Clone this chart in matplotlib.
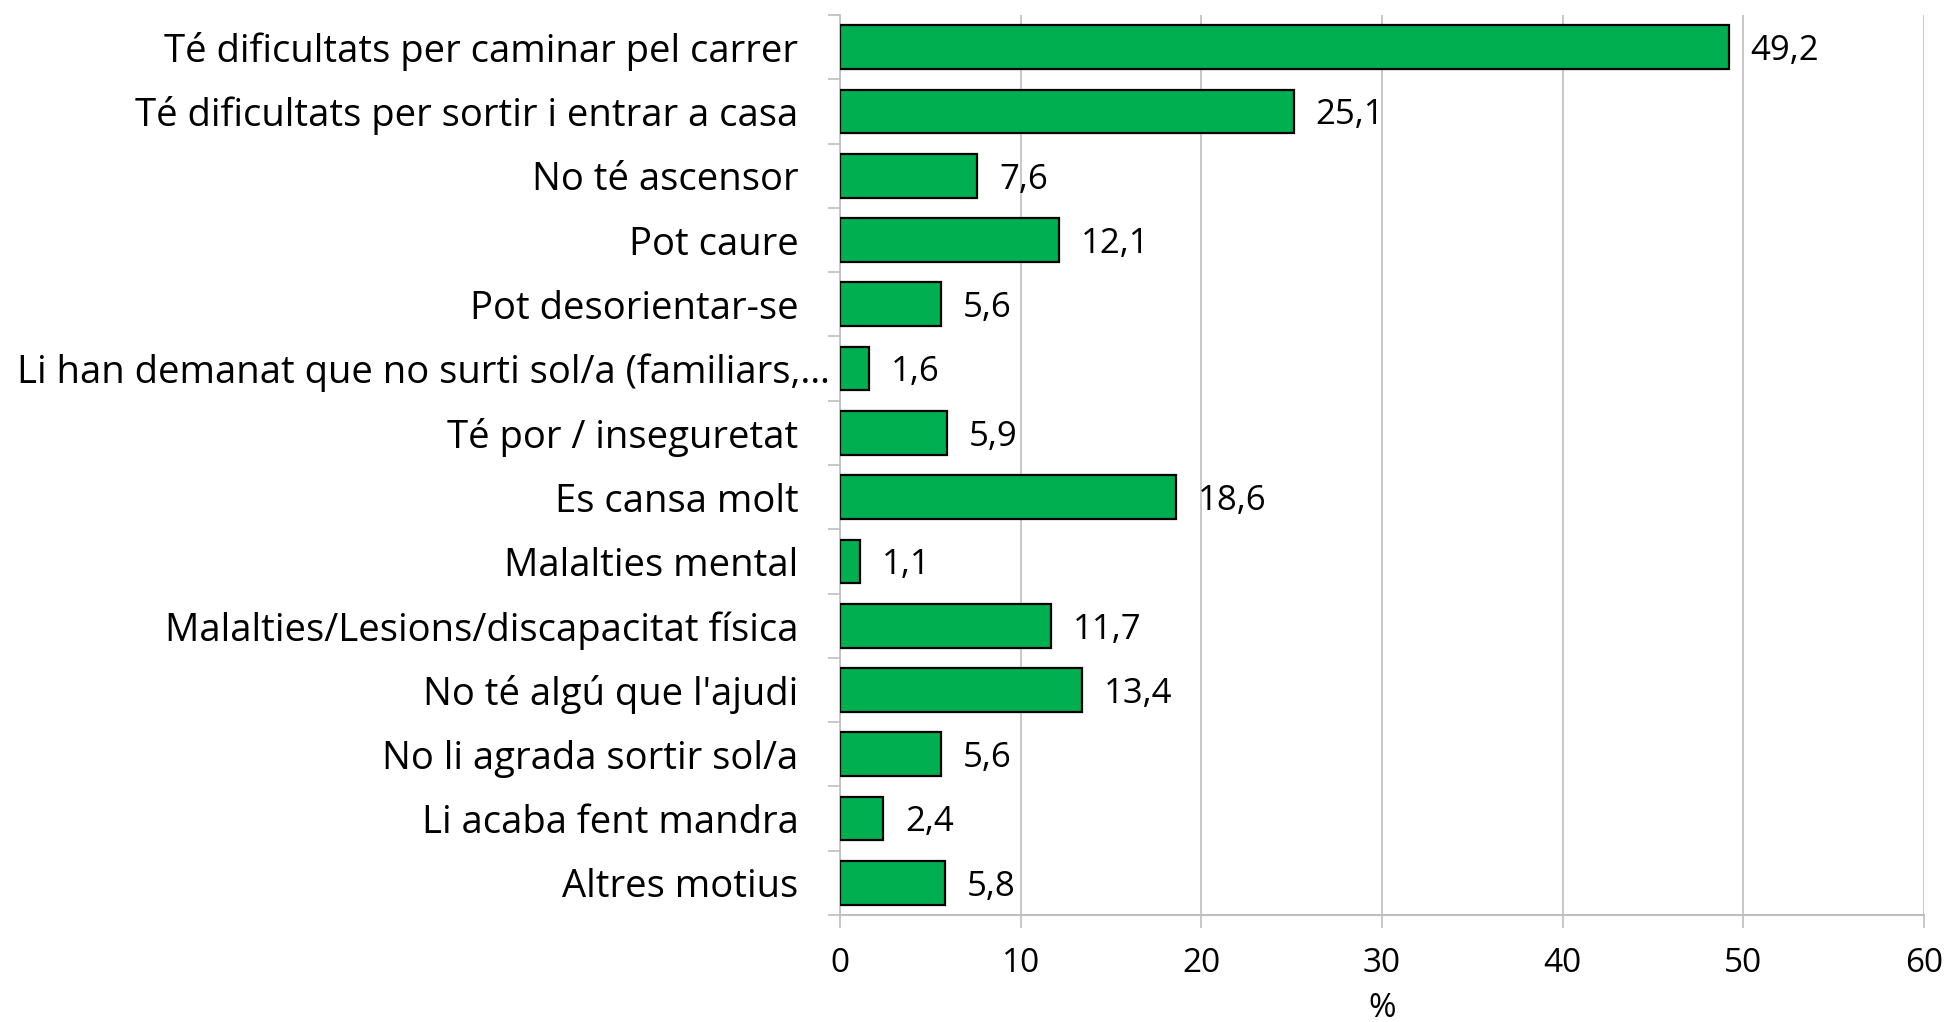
import matplotlib
matplotlib.use("Agg")
import matplotlib.pyplot as plt
import matplotlib.transforms as mtransforms
import numpy as np

plt.rcParams['font.family'] = ['Open Sans', 'DejaVu Sans']

categories = [
    "Té dificultats per caminar pel carrer",
    "Té dificultats per sortir i entrar a casa",
    "No té ascensor",
    "Pot caure",
    "Pot desorientar-se",
    "Li han demanat que no surti sol/a (familiars,…",
    "Té por / inseguretat",
    "Es cansa molt",
    "Malalties mental",
    "Malalties/Lesions/discapacitat física",
    "No té algú que l'ajudi",
    "No li agrada sortir sol/a",
    "Li acaba fent mandra",
    "Altres motius",
]
values = [49.2, 25.1, 7.6, 12.1, 5.6, 1.6, 5.9, 18.6, 1.1, 11.7, 13.4, 5.6, 2.4, 5.8]
xticks = [0, 10, 20, 30, 40, 50, 60]

grey = '#BFBFBF'

fig = plt.figure(figsize=(19.46, 10.22), dpi=100)
ax = fig.add_axes([0.4317, 0.1047, 0.9887 - 0.4317, 0.9853 - 0.1047])

y = np.arange(len(categories))
ax.barh(y, values, height=0.68, color='#00B050', edgecolor='black', linewidth=1.6, zorder=3)

for yi, v in zip(y, values):
    ax.text(v + 1.2, yi + 0.06, ('%.1f' % v).replace('.', ','), va='center', ha='left',
            fontsize=25, color='black')

ax.set_ylim(len(categories) - 0.5, -0.5)
ax.set_xlim(0, 60)
ax.set_xticks(xticks)
ax.set_xticklabels([str(t) for t in xticks], fontsize=24)
ax.set_yticks(y)
ax.set_yticklabels(categories, fontsize=27.5)
ax.set_yticks(np.arange(-0.5, len(categories), 1), minor=True)
ax.tick_params(axis='y', which='major', length=0, pad=30)
ax.tick_params(axis='y', which='minor', length=9, width=1.2, color=grey, direction='out')
ax.tick_params(axis='x', which='major', length=9, width=1.2, color=grey, direction='out', pad=14)

# the truncated label sits closer to the axis, as in the original
long_lbl = ax.get_yticklabels()[5]
long_lbl.set_transform(long_lbl.get_transform() +
                       mtransforms.ScaledTranslation(23 / 72, 0, fig.dpi_scale_trans))

ax.grid(axis='x', color=grey, linewidth=1.2, zorder=0)
ax.set_axisbelow(True)
for s in ['top', 'right']:
    ax.spines[s].set_visible(False)
ax.spines['left'].set_color(grey)
ax.spines['left'].set_linewidth(1.2)
ax.spines['bottom'].set_color(grey)
ax.spines['bottom'].set_linewidth(1.5)

ax.set_xlabel('%', fontsize=24, labelpad=9)

fig.savefig('out.png', dpi=100)
